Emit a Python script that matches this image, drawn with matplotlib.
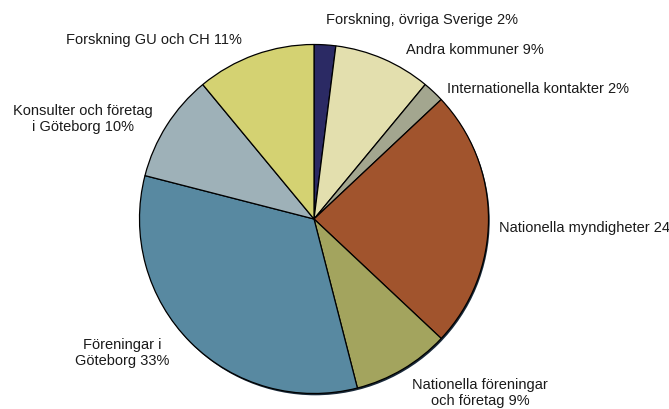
import matplotlib
matplotlib.use("Agg")
import matplotlib.pyplot as plt
from matplotlib.patches import Circle

W, H = 669, 409

categories = [
    "Forskning, övriga Sverige",
    "Andra kommuner",
    "Internationella kontakter",
    "Nationella myndigheter",
    "Nationella föreningar\noch företag",
    "Föreningar i\nGöteborg",
    "Konsulter och företag\ni Göteborg",
    "Forskning GU och CH",
]
values = [2, 9, 2, 24, 9, 33, 10, 11]
colors = ["#2B2A64", "#E3DFAE", "#A3A68F", "#A1542D",
          "#A3A45E", "#5889A1", "#9EB1B8", "#D4D272"]

# label layout (pixel coords from top-left), alignment
label_pos = [
    (326, 20, "left"),
    (406, 50, "left"),
    (447, 89, "left"),
    (499, 228, "left"),
    (480, 393, "center"),
    (122, 353, "center"),
    (83, 119, "center"),
    (154, 40, "center"),
]

plt.rcParams['font.family'] = ['Liberation Sans', 'DejaVu Sans']

fig = plt.figure(figsize=(W / 100, H / 100), dpi=100)
ax = fig.add_axes([0, 0, 1, 1])
ax.set_xlim(0, W)
ax.set_ylim(0, H)
ax.axis("off")

cx, cy, r = 314, H - 219, 174.5

# subtle shadow
ax.add_patch(Circle((cx + 1.2, cy - 1.8), r, facecolor="#1a2a3a", edgecolor="none", zorder=0))

ax.pie(values, colors=colors, startangle=90, counterclock=False,
       center=(cx, cy), radius=r, frame=True,
       wedgeprops=dict(edgecolor="black", linewidth=0.9))
ax.set_xlim(0, W)
ax.set_ylim(0, H)
ax.axis("off")

for cat, v, (x, y, ha) in zip(categories, values, label_pos):
    ax.text(x, H - y, f"{cat} {v}%", ha=ha, va="center", fontsize=10.5,
            color="#1a1a1a", linespacing=1.25, clip_on=False)

fig.savefig("out.png", dpi=100)
